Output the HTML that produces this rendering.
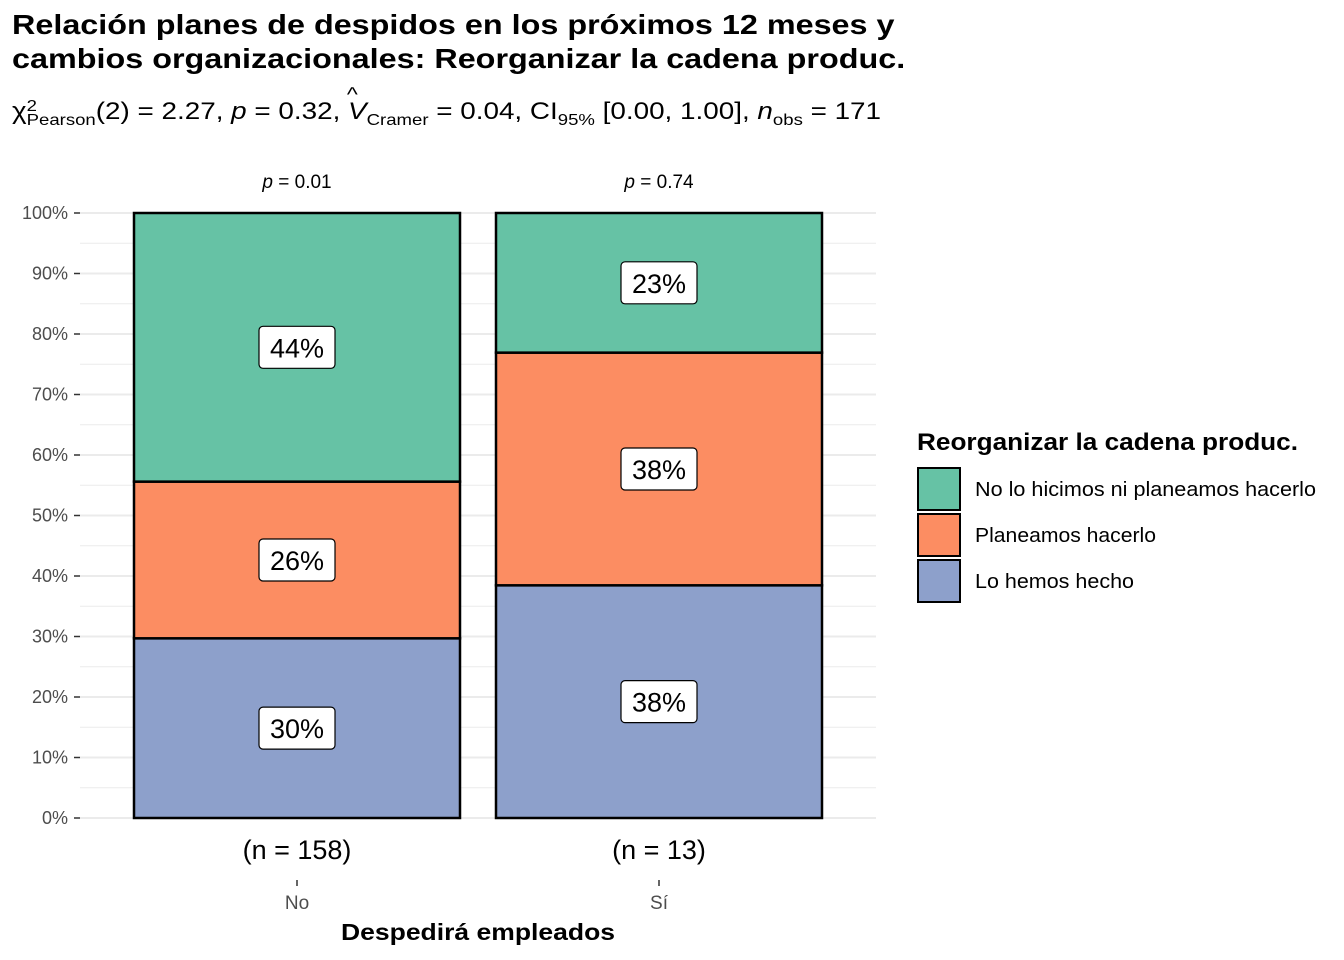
<!DOCTYPE html>
<html><head><meta charset="utf-8">
<style>
body{margin:0;background:#fff;font-family:"Liberation Sans",sans-serif;}
#wrap{position:relative;width:1344px;height:960px;overflow:hidden;}
.t{position:absolute;font-weight:bold;font-size:28px;left:12px;line-height:34px;color:#000;transform:scaleX(1.155);transform-origin:0 0;white-space:nowrap;}
.sub{position:absolute;left:12px;top:98px;font-size:24px;white-space:nowrap;transform:scaleX(1.16);transform-origin:0 0;}
.sub sub,.sub sup{font-size:16px;}
</style></head><body>
<div id="wrap">
<div class="t" style="top:8px">Relación planes de despidos en los próximos 12 meses y<br>cambios organizacionales: Reorganizar la cadena produc.</div>
<div class="sub">χ<span style="display:inline-block;vertical-align:-6px;line-height:14px;font-size:16px"><span style="display:block">2</span><span style="display:block">Pearson</span></span>(2) = 2.27, <i>p</i> = 0.32, <span style="position:relative"><i>V</i><span style="position:absolute;left:-1px;top:-14px;font-size:20px">^</span></span><sub>Cramer</sub> = 0.04, CI<sub>95%</sub> [0.00, 1.00], <i>n</i><sub>obs</sub> = 171</div>
<svg id="svg" width="1344" height="960" style="position:absolute;left:0;top:0" font-family="Liberation Sans, sans-serif"></svg>
</div>
<script>
const groups=["No","Sí"];
const nLabels=["(n = 158)","(n = 13)"];
const pLabels=["0.01","0.74"];
const levels=["Lo hemos hecho","Planeamos hacerlo","No lo hicimos ni planeamos hacerlo"];
const valLo=[29.7,38.46];
const valPlan=[25.9,38.46];
const valNo=[44.4,23.08];
const yTicks=[0,10,20,30,40,50,60,70,80,90,100];
const colors=["#8da0cb","#fc8d62","#66c2a5"];
const series=[valLo,valPlan,valNo];
const NS="http://www.w3.org/2000/svg";
const svg=document.getElementById('svg');
function y(v){return 818-v*6.05;}
function xc(i){return 297+i*362;}
function mk(t,a,p){const e=document.createElementNS(NS,t);for(const k in a)e.setAttribute(k,a[k]);(p||svg).appendChild(e);return e;}
for(let v=0;v<=100;v+=5){const g=mk('line',{x1:80,x2:876,y1:y(v),y2:y(v),stroke:'#ebebeb','stroke-width':v%10?1:2});

}
yTicks.forEach(v=>{
 const tk=mk('line',{x1:74,x2:80,y1:y(v),y2:y(v),stroke:'#333','stroke-width':1.5});
 
 
 const t=mk('text',{x:68,y:y(v)+6,'text-anchor':'end','font-size':18,fill:'#4d4d4d'});t.textContent=v+'%';
 
 
});
groups.forEach((g,i)=>{
 let cum=0;
 series.forEach((s,k)=>{
  const v=s[i];
  const r=mk('rect',{x:xc(i)-163,width:326,y:y(cum+v),height:v*6.05,fill:colors[k],stroke:'#000','stroke-width':2.5});
  
  
  const mid=y(cum+v/2);
  const lb=mk('rect',{x:xc(i)-38,y:mid-21,width:76,height:42,rx:4,fill:'#fff',stroke:'#000','stroke-width':1.2});
  
  
  const t=mk('text',{x:xc(i),y:mid+10,'text-anchor':'middle','font-size':27});t.textContent=Math.round(v)+'%';
  
  
  cum+=v;
 });
 const p=mk('text',{x:xc(i),y:188,'text-anchor':'middle','font-size':19});p.innerHTML='<tspan font-style="italic">p</tspan> = '+pLabels[i];
 
 
 const n=mk('text',{x:xc(i),y:859,'text-anchor':'middle','font-size':27});n.textContent=nLabels[i];
 
 
 const tk=mk('line',{x1:xc(i),x2:xc(i),y1:880,y2:886,stroke:'#333','stroke-width':1.5});
 
 
 const xl=mk('text',{x:xc(i),y:909,'text-anchor':'middle','font-size':19,fill:'#4d4d4d'});xl.textContent=g;
 
 
});
const xt=mk('text',{x:341,y:940,'font-size':23,'font-weight':'bold',textLength:274,lengthAdjust:'spacingAndGlyphs'});xt.textContent='Despedirá empleados';


const lt=mk('text',{x:917,y:450,'font-size':24,'font-weight':'bold',textLength:381,lengthAdjust:'spacingAndGlyphs'});lt.textContent='Reorganizar la cadena produc.';


const legLen=[159,181,341];
[2,1,0].forEach((k,j)=>{
 const r=mk('rect',{x:918,y:468+j*46,width:42,height:42,fill:colors[k],stroke:'#000','stroke-width':2});
 
 
 const t=mk('text',{x:975,y:496+j*46,'font-size':20,textLength:legLen[k],lengthAdjust:'spacingAndGlyphs'});t.textContent=levels[k];
 
 
});
</script>
</body></html>
